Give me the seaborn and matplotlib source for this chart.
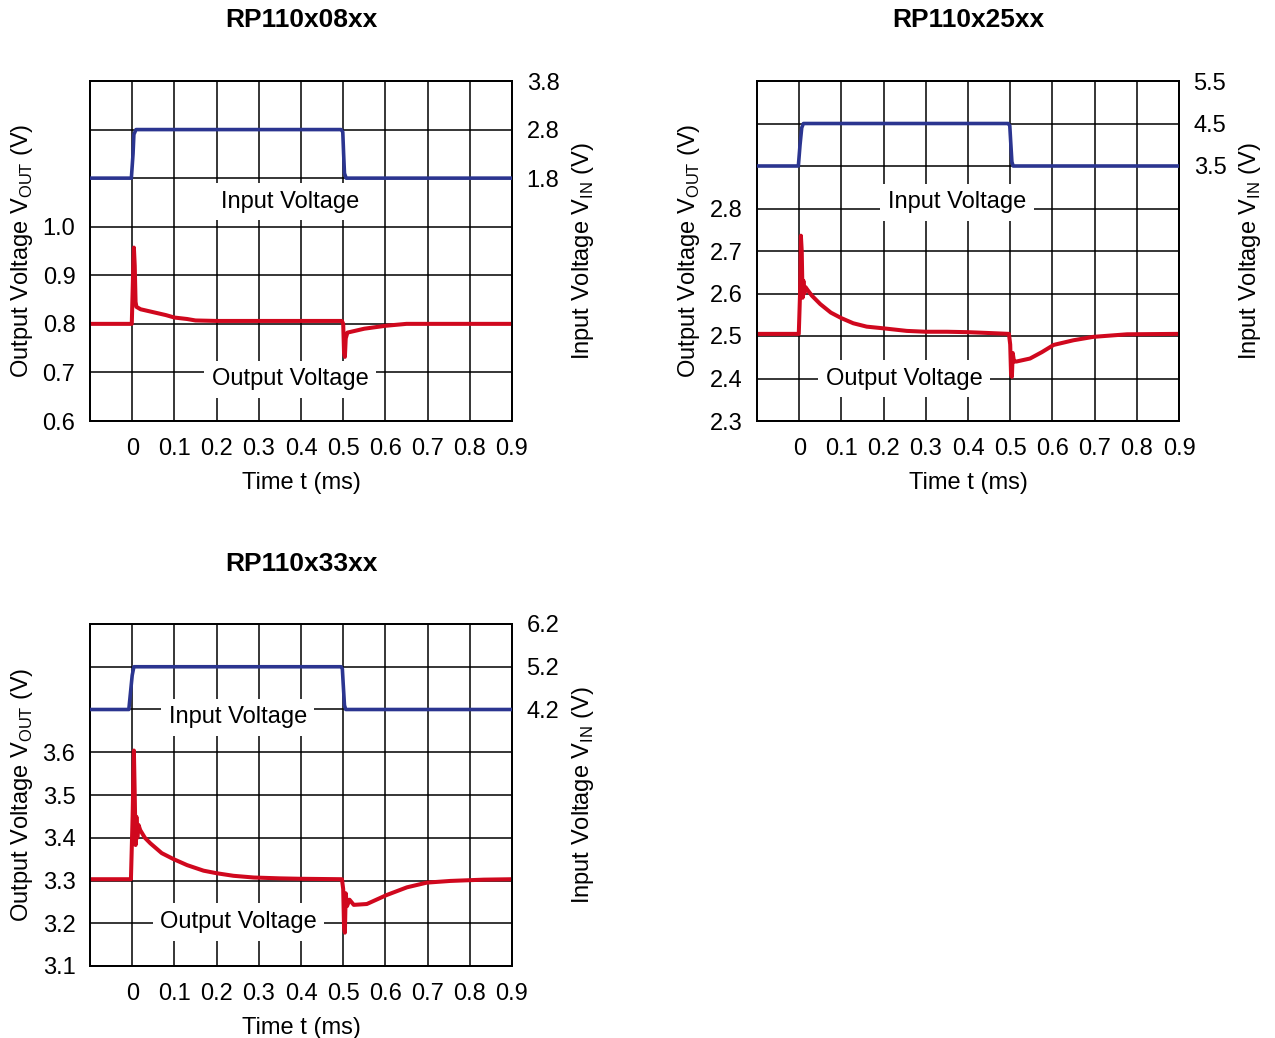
import numpy as np
import pandas as pd
import matplotlib
matplotlib.use("Agg")
import matplotlib.pyplot as plt
import seaborn as sns

sns.set_style("white")
plt.rcParams['font.family'] = ['Liberation Sans', 'DejaVu Sans']
plt.rcParams['mathtext.fontset'] = 'custom'
plt.rcParams['mathtext.rm'] = 'Liberation Sans'
plt.rcParams['text.color'] = 'black'
plt.rcParams['axes.labelcolor'] = 'black'
plt.rcParams['xtick.color'] = 'black'
plt.rcParams['ytick.color'] = 'black'

# ---------------- data ----------------
titles = ["RP110x08xx", "RP110x25xx", "RP110x33xx"]
x_ticks = [0, 0.1, 0.2, 0.3, 0.4, 0.5, 0.6, 0.7, 0.8, 0.9]
x_ticklabels = ["0", "0.1", "0.2", "0.3", "0.4", "0.5", "0.6", "0.7", "0.8", "0.9"]

# Panel 1 : RP110x08xx
t_in1 = [-0.1, -0.002, 0.002, 0.004, 0.009, 0.495, 0.499, 0.501, 0.503, 0.507, 0.9]
v_in1 = [1.8, 1.8, 2.3, 2.7, 2.8, 2.8, 2.75, 2.3, 1.9, 1.8, 1.8]
t_out1 = [-0.1, -0.001, 0.002, 0.004, 0.006, 0.008, 0.010, 0.02, 0.04, 0.06, 0.08, 0.1,
          0.13, 0.15, 0.2, 0.3, 0.4, 0.497, 0.500, 0.502, 0.504, 0.506, 0.51, 0.55, 0.6, 0.65, 0.9]
v_out1 = [0.8, 0.8, 0.90, 0.957, 0.92, 0.845, 0.835, 0.83, 0.826, 0.822, 0.818, 0.813,
          0.81, 0.807, 0.806, 0.806, 0.806, 0.806, 0.80, 0.74, 0.732, 0.77, 0.782, 0.79, 0.796, 0.80, 0.80]
left_ticks1 = [0.6, 0.7, 0.8, 0.9, 1.0, 1.1, 1.2]
left_labels1 = ["0.6", "0.7", "0.8", "0.9", "1.0", "", ""]
left_lim1 = (0.6, 1.3)
right_ticks1 = [1.8, 2.8, 3.8]
right_lim1 = (-3.2, 3.8)

# Panel 2 : RP110x25xx
t_in2 = [-0.1, -0.002, 0.002, 0.006, 0.01, 0.495, 0.499, 0.501, 0.504, 0.507, 0.9]
v_in2 = [3.5, 3.5, 4.0, 4.4, 4.5, 4.5, 4.45, 4.1, 3.6, 3.5, 3.5]
t_out2 = [-0.1, -0.001, 0.002, 0.004, 0.006, 0.008, 0.010, 0.012, 0.015, 0.02, 0.03, 0.05,
          0.075, 0.1, 0.128, 0.16, 0.2, 0.255, 0.3, 0.35, 0.4, 0.45, 0.497, 0.500, 0.502,
          0.504, 0.506, 0.509, 0.515, 0.547, 0.575, 0.603, 0.65, 0.697, 0.777, 0.9]
v_out2 = [2.505, 2.505, 2.60, 2.736, 2.70, 2.59, 2.63, 2.60, 2.615, 2.608, 2.595, 2.575,
          2.555, 2.542, 2.53, 2.522, 2.518, 2.512, 2.51, 2.51, 2.509, 2.507, 2.505, 2.48, 2.41,
          2.404, 2.46, 2.44, 2.44, 2.447, 2.462, 2.479, 2.49, 2.498, 2.504, 2.505]
left_ticks2 = [2.3, 2.4, 2.5, 2.6, 2.7, 2.8, 2.9, 3.0]
left_labels2 = ["2.3", "2.4", "2.5", "2.6", "2.7", "2.8", "", ""]
left_lim2 = (2.3, 3.1)
right_ticks2 = [3.5, 4.5, 5.5]
right_lim2 = (-2.5, 5.5)

# Panel 3 : RP110x33xx
t_in3 = [-0.1, -0.008, -0.004, 0.0, 0.004, 0.495, 0.498, 0.500, 0.503, 0.506, 0.9]
v_in3 = [4.2, 4.2, 4.6, 5.0, 5.2, 5.2, 5.15, 4.8, 4.3, 4.2, 4.2]
t_out3 = [-0.1, -0.003, 0.001, 0.004, 0.006, 0.008, 0.010, 0.012, 0.015, 0.019, 0.03, 0.043,
          0.07, 0.098, 0.13, 0.169, 0.2, 0.24, 0.288, 0.35, 0.4, 0.497, 0.500, 0.502, 0.504,
          0.506, 0.509, 0.515, 0.525, 0.556, 0.603, 0.651, 0.698, 0.754, 0.833, 0.9]
v_out3 = [3.303, 3.303, 3.45, 3.604, 3.50, 3.383, 3.449, 3.40, 3.43, 3.418, 3.40, 3.387,
          3.364, 3.35, 3.336, 3.323, 3.317, 3.311, 3.307, 3.305, 3.304, 3.303, 3.28, 3.19,
          3.178, 3.27, 3.24, 3.255, 3.243, 3.245, 3.266, 3.284, 3.295, 3.299, 3.302, 3.303]
left_ticks3 = [3.1, 3.2, 3.3, 3.4, 3.5, 3.6, 3.7, 3.8]
left_labels3 = ["3.1", "3.2", "3.3", "3.4", "3.5", "3.6", "", ""]
left_lim3 = (3.1, 3.9)
right_ticks3 = [4.2, 5.2, 6.2]
right_lim3 = (-1.8, 6.2)

# label anchor positions (time, left-axis value)
in_label_pos = [(0.374, 1.051), (0.374, 2.815), (0.250, 3.682)]
out_label_pos = [(0.374, 0.686), (0.249, 2.399), (0.252, 3.203)]

# ---------------- drawing ----------------
BLUE = "#2B3590"
RED = "#D0081E"
FS = 17

W, H = 1275, 1038
fig = plt.figure(figsize=(W / 100, H / 100), dpi=100)

boxes = [(90, 81, 512, 421), (757, 81, 1179, 421), (90, 624, 512, 966)]
title_pos = [(301, 20), (968, 20), (301, 564)]

panels = [
    (t_in1, v_in1, t_out1, v_out1, left_ticks1, left_labels1, left_lim1, right_ticks1, right_lim1),
    (t_in2, v_in2, t_out2, v_out2, left_ticks2, left_labels2, left_lim2, right_ticks2, right_lim2),
    (t_in3, v_in3, t_out3, v_out3, left_ticks3, left_labels3, left_lim3, right_ticks3, right_lim3),
]

for i, (tin, vin, tout, vout, lt, ll, llim, rt, rlim) in enumerate(panels):
    x0, y0, x1, y1 = boxes[i]
    aw, ah = x1 - x0, y1 - y0
    ax = fig.add_axes([x0 / W, 1 - y1 / H, aw / W, ah / H])
    ax2 = ax.twinx()

    df_out = pd.DataFrame({"t": tout, "v": vout})
    df_in = pd.DataFrame({"t": tin, "v": vin})
    sns.lineplot(data=df_out, x="t", y="v", ax=ax, color=RED, lw=2.9,
                 sort=False, estimator=None, zorder=3)
    sns.lineplot(data=df_in, x="t", y="v", ax=ax2, color=BLUE, lw=2.6,
                 sort=False, estimator=None, zorder=3)

    ax.set_xlim(-0.1, 0.9)
    ax.set_ylim(*llim)
    ax2.set_ylim(*rlim)
    ax.set_xticks(x_ticks)
    ax.set_xticklabels(x_ticklabels)
    ax.set_yticks(lt)
    ax.set_yticklabels(ll)
    ax2.set_yticks(rt)
    ax2.set_yticklabels([f"{v:.1f}" for v in rt])

    ax.set_axisbelow(True)
    ax.grid(True, color="black", lw=1.1)
    ax2.grid(False)
    for a in (ax, ax2):
        for s in a.spines.values():
            s.set_color("black")
            s.set_linewidth(1.3)
        a.tick_params(length=0, labelsize=FS, colors="black")
    ax.tick_params(axis="y", pad=10.5)
    ax.tick_params(axis="x", pad=12.5)
    ax2.tick_params(axis="y", pad=10.5)

    ax.set_xlabel("Time t (ms)", fontsize=FS)
    ax.set_ylabel(r"Output Voltage V$_{\mathregular{OUT}}$ (V)", fontsize=FS)
    ax2.set_ylabel(r"Input Voltage V$_{\mathregular{IN}}$ (V)", fontsize=FS)
    ax.xaxis.label.set_va("center")
    ax.yaxis.label.set_va("center")
    ax2.yaxis.label.set_va("center")
    ax.xaxis.set_label_coords(0.5, -(483 - 421) / 340)
    ax.yaxis.set_label_coords(-(90 - 22) / aw, 0.5)
    ax2.yaxis.set_label_coords((583 - 90) / aw, 0.5)

    tx, ty = in_label_pos[i]
    ax.text(tx, ty, "Input Voltage", ha="center", va="center", fontsize=FS, zorder=1,
            bbox=dict(fc="white", ec="none", pad=5.5))
    tx, ty = out_label_pos[i]
    ax.text(tx, ty, "Output Voltage", ha="center", va="center", fontsize=FS, zorder=1,
            bbox=dict(fc="white", ec="none", pad=5.5))

    px, py = title_pos[i]
    fig.text(px / W, 1 - py / H, titles[i], ha="center", va="center",
             fontsize=19, fontweight="bold")

fig.savefig("out.png", dpi=100)
